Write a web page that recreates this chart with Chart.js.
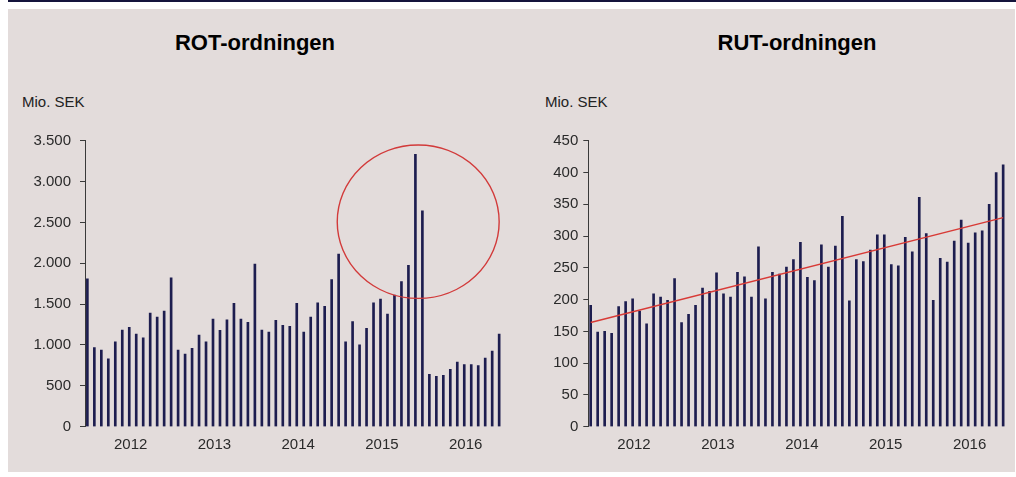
<!DOCTYPE html>
<html>
<head>
<meta charset="utf-8">
<script src="https://cdn.jsdelivr.net/npm/chart.js@4/dist/chart.umd.min.js"></script>
<style>
  html, body { margin: 0; padding: 0; background: #ffffff; }
  body { width: 1016px; height: 477px; position: relative; overflow: hidden;
         font-family: "Liberation Sans", Arial, sans-serif; }
  #topline { position: absolute; left: 8px; top: 0; width: 1008px; height: 2px; background: #14143c; }
  #panel { position: absolute; left: 8px; top: 9px; width: 1007px; height: 463px; background: #e3dcdb; }
  canvas { position: absolute; top: 0; }
  #c1 { left: 0; }
  #c2 { left: 508px; }
  .title { position: absolute; font-weight: bold; font-size: 22px; line-height: 22px; color: #000;
           white-space: nowrap; transform: translateX(-50%); top: 32px; }
  .unit { position: absolute; font-size: 15px; line-height: 15px; color: #222; top: 94px; white-space: nowrap; }
</style>
</head>
<body>
<div id="topline"></div>
<div id="panel"></div>
<div class="title" style="left:255px">ROT-ordningen</div>
<div class="title" style="left:797px">RUT-ordningen</div>
<div class="unit" style="left:22px">Mio. SEK</div>
<div class="unit" style="left:545px">Mio. SEK</div>
<canvas id="c1" width="508" height="477"></canvas>
<canvas id="c2" width="508" height="477"></canvas>
<script>
// ---- data ----
const yearLabels = ['2012', '2013', '2014', '2015', '2016'];
const monthNumbers = ['01','02','03','04','05','06','07','08','09','10','11','12'];
const monthCategories = yearLabels.flatMap(y => monthNumbers.map(m => y + '-' + m));

// ROT-ordningen, Mio. SEK per month
const rotValues = [
  1811, 967, 938, 832, 1040, 1183, 1216, 1134, 1089, 1391, 1342, 1415,
  1823, 938, 889, 959, 1122, 1040, 1318, 1179, 1309, 1509, 1318, 1277,
  1991, 1183, 1159, 1301, 1240, 1228, 1509, 1159, 1342, 1517, 1473, 1799,
  2113, 1040, 1285, 1003, 1203, 1517, 1562, 1379, 1611, 1775, 1974, 3333,
  2643, 640, 616, 628, 702, 791, 759, 759, 747, 840, 926, 1134
];
// RUT-ordningen, Mio. SEK per month
const rutValues = [
  191, 149, 150, 147, 189, 197, 201, 182, 162, 209, 204, 199,
  233, 164, 177, 191, 218, 213, 242, 209, 204, 243, 236, 204,
  283, 201, 243, 240, 251, 263, 290, 235, 230, 286, 251, 284,
  331, 198, 263, 260, 278, 302, 302, 255, 253, 298, 275, 361,
  304, 199, 265, 259, 292, 325, 289, 305, 308, 350, 400, 412
];
// linear trend of RUT: value at first and last month
const rutTrendEnds = [164, 329];
// highlighted region in ROT (centre month index / value, radii in months / value)
const rotHighlight = { cx: 47.4, cy: 2509, rx: 11.6, ry: 939 };

const rotTicks = [0, 500, 1000, 1500, 2000, 2500, 3000, 3500];
const rutTicks = [0, 50, 100, 150, 200, 250, 300, 350, 400, 450];

// ---- styling ----
const FONT = '"Liberation Sans", Arial, sans-serif';
const BAR_COLOR = '#1d1d4f';
const TEXT_COLOR = '#2a2a2a';
const AXIS_COLOR = '#3a3a3a';
const yearTickValues = yearLabels.map(y => monthCategories.indexOf(y + '-07') + 0.2);

function thousands(v) { return String(v).replace(/\B(?=(\d{3})+(?!\d))/g, '.'); }

function makeOptions(yTicks, yWidth, yPad, fmt) {
  return {
    responsive: false,
    animation: false,
    devicePixelRatio: 1,
    layout: { padding: { top: 140.7, left: 0, right: 5, bottom: 0 } },
    plugins: { legend: { display: false }, tooltip: { enabled: false }, title: { display: false } },
    scales: {
      x: {
        type: 'linear',
        offset: false,
        min: -0.34, max: 59.55,
        afterBuildTicks: s => { s.ticks = yearTickValues.map(v => ({ value: v })); },
        afterFit: s => { s.height = 50.3; },
        grid: { display: false, drawTicks: false, offset: false },
        border: { display: false },
        ticks: {
          autoSkip: false, maxRotation: 0, padding: 9,
          color: TEXT_COLOR, font: { family: FONT, size: 15 },
          callback: (v, i) => yearLabels[i]
        }
      },
      y: {
        min: yTicks[0], max: yTicks[yTicks.length - 1],
        afterFit: s => { s.width = yWidth; },
        afterBuildTicks: s => { s.ticks = yTicks.map(v => ({ value: v })); },
        ticks: { padding: yPad, color: TEXT_COLOR,
                 font: { family: FONT, size: 15 }, callback: v => fmt(v) },
        grid: { display: true, drawOnChartArea: false, drawTicks: true, tickLength: 5,
                color: AXIS_COLOR, lineWidth: 1 },
        border: { display: true, color: AXIS_COLOR, width: 1 }
      }
    }
  };
}

const ellipsePlugin = {
  id: 'highlightEllipse',
  afterDatasetsDraw(chart) {
    const xs = chart.scales.x, ys = chart.scales.y, ctx = chart.ctx;
    const cx = xs.getPixelForValue(rotHighlight.cx);
    const cy = ys.getPixelForValue(rotHighlight.cy);
    const rx = Math.abs(xs.getPixelForValue(rotHighlight.cx + rotHighlight.rx) - cx);
    const ry = Math.abs(ys.getPixelForValue(rotHighlight.cy + rotHighlight.ry) - cy);
    ctx.save();
    ctx.beginPath();
    ctx.ellipse(cx, cy, rx, ry, 0, 0, Math.PI * 2);
    ctx.strokeStyle = '#d23a3a';
    ctx.lineWidth = 1.4;
    ctx.stroke();
    ctx.restore();
  }
};

new Chart(document.getElementById('c1'), {
  type: 'bar',
  data: {
    datasets: [{
      data: rotValues.map((v, i) => ({ x: i, y: v })),
      backgroundColor: BAR_COLOR, borderWidth: 0, barThickness: 2
    }]
  },
  options: makeOptions(rotTicks, 85, 9, thousands),
  plugins: [ellipsePlugin]
});

const rutOpts = makeOptions(rutTicks, 80.3, 5, v => String(v));
rutOpts.layout.padding.right = 9;
new Chart(document.getElementById('c2'), {
  type: 'bar',
  data: {
    datasets: [
      {
        type: 'line',
        data: [{ x: 0, y: rutTrendEnds[0] }, { x: rutValues.length - 1, y: rutTrendEnds[1] }],
        borderColor: '#d83a36', borderWidth: 1.5, pointRadius: 0, fill: false, order: 0
      },
      {
        data: rutValues.map((v, i) => ({ x: i, y: v })),
        backgroundColor: BAR_COLOR, borderWidth: 0, barThickness: 2, order: 1
      }
    ]
  },
  options: rutOpts
});
</script>
</body>
</html>
